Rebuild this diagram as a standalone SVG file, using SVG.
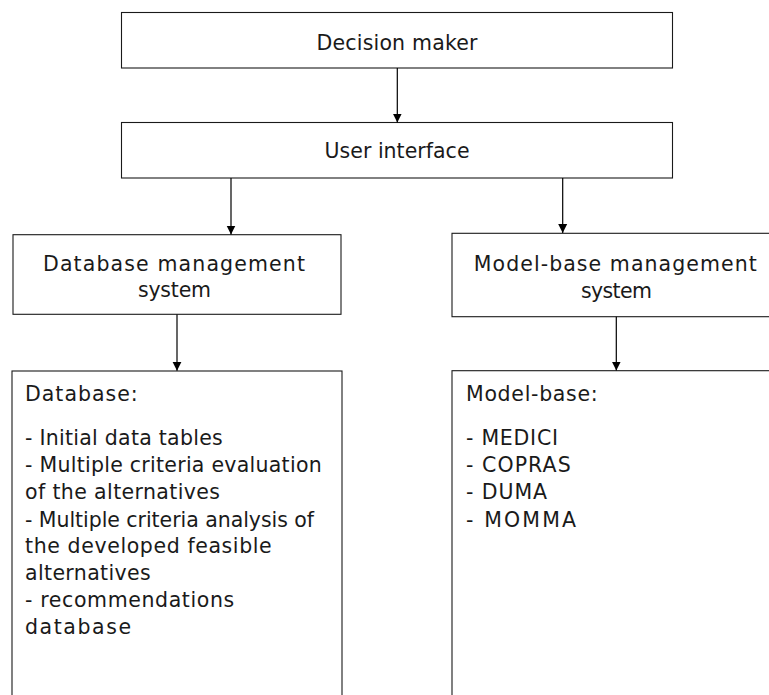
<svg xmlns="http://www.w3.org/2000/svg" width="769" height="695" viewBox="0 0 769 695">
  <style>
    .box { fill: #ffffff; stroke: #1a1a1a; stroke-width: 1.1; }
    .lbl { font-family: "DejaVu Sans", "Liberation Sans", sans-serif; font-size: 20.5px; fill: #1a1a1a; }
    .mid { text-anchor: middle; }
    .link { stroke: #000000; stroke-width: 1.2; fill: none; marker-end: url(#head); }
  </style>
  <defs>
    <marker id="head" markerUnits="userSpaceOnUse" markerWidth="10" markerHeight="11" refX="9" refY="5" orient="auto">
      <path d="M0,0.5 L9,5 L0,9.5 Z" fill="#000000"/>
    </marker>
  </defs>
  <rect width="769" height="695" fill="#ffffff"/>

  <g id="decision-maker">
    <rect class="box" x="121.5" y="12.5" width="551" height="55.5"/>
    <text class="lbl mid" x="397" y="50" textLength="161" lengthAdjust="spacing">Decision maker</text>
  </g>

  <g id="user-interface">
    <rect class="box" x="121.5" y="122.5" width="551" height="55.5"/>
    <text class="lbl mid" x="397" y="158" textLength="145" lengthAdjust="spacing">User interface</text>
  </g>

  <g id="dbms">
    <rect class="box" x="13" y="234.7" width="328" height="79.6"/>
    <text class="lbl mid" x="174" y="271" textLength="262" lengthAdjust="spacing">Database management</text>
    <text class="lbl mid" x="174.5" y="297.3" textLength="73" lengthAdjust="spacing">system</text>
  </g>

  <g id="mbms">
    <rect class="box" x="452" y="233.3" width="330" height="83.4"/>
    <text class="lbl mid" x="615.3" y="270.5" textLength="283" lengthAdjust="spacing">Model-base management</text>
    <text class="lbl mid" x="616.5" y="297.5" textLength="71" lengthAdjust="spacing">system</text>
  </g>

  <g id="database">
    <rect class="box" x="12" y="371" width="330" height="340"/>
    <text class="lbl" x="25" y="400.7" textLength="112.7" lengthAdjust="spacing">Database:</text>
    <text class="lbl" x="25" y="445" textLength="197.7" lengthAdjust="spacing">- Initial data tables</text>
    <text class="lbl" x="25" y="472" textLength="296.7" lengthAdjust="spacing">- Multiple criteria evaluation</text>
    <text class="lbl" x="25" y="499" textLength="195" lengthAdjust="spacing">of the alternatives</text>
    <text class="lbl" x="25" y="526.5" textLength="289" lengthAdjust="spacing">- Multiple criteria analysis of</text>
    <text class="lbl" x="25" y="553.3" textLength="246.7" lengthAdjust="spacing">the developed feasible</text>
    <text class="lbl" x="25" y="580.3" textLength="125.7" lengthAdjust="spacing">alternatives</text>
    <text class="lbl" x="25" y="607.3" textLength="209.3" lengthAdjust="spacing">- recommendations</text>
    <text class="lbl" x="25" y="634" textLength="106" lengthAdjust="spacing">database</text>
  </g>

  <g id="model-base">
    <rect class="box" x="452" y="370.7" width="330" height="340"/>
    <text class="lbl" x="466" y="400.7" textLength="131.7" lengthAdjust="spacing">Model-base:</text>
    <text class="lbl" x="466" y="445" textLength="92" lengthAdjust="spacing">- MEDICI</text>
    <text class="lbl" x="466" y="472.3" textLength="104.7" lengthAdjust="spacing">- COPRAS</text>
    <text class="lbl" x="466" y="499.3" textLength="81" lengthAdjust="spacing">- DUMA</text>
    <text class="lbl" x="466" y="526.7" textLength="110" lengthAdjust="spacing">- MOMMA</text>
  </g>

  <g id="connectors">
    <line class="link" x1="397.3" y1="68" x2="397.3" y2="122.5"/>
    <line class="link" x1="231" y1="178" x2="231" y2="234.5"/>
    <line class="link" x1="562.7" y1="178" x2="562.7" y2="233"/>
    <line class="link" x1="177" y1="314.5" x2="177" y2="370.7"/>
    <line class="link" x1="616.3" y1="316.7" x2="616.3" y2="370.5"/>
  </g>
</svg>
